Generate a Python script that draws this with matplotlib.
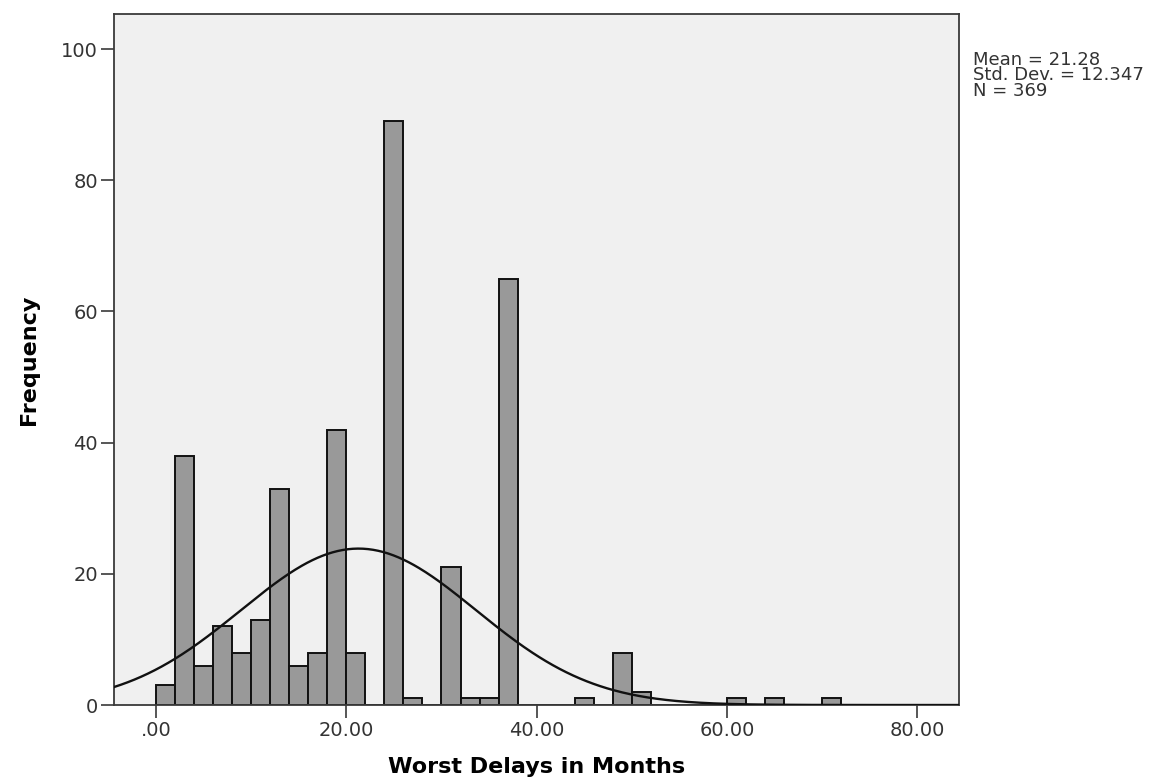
import numpy as np
import matplotlib
matplotlib.use('Agg')
import matplotlib.pyplot as plt

# histogram of worst delays (bin width 2 months), read from the SPSS output
bin_left = [0, 2, 4, 6, 8, 10, 12, 14, 16, 18, 20, 22, 24, 26, 28, 30, 32, 34, 36,
            38, 40, 42, 44, 46, 48, 50, 52, 54, 56, 58, 60, 62, 64, 66, 68, 70]
counts = [3, 38, 6, 12, 8, 13, 33, 6, 8, 42, 8, 0, 89, 1, 0, 21, 1, 1, 65,
          0, 0, 0, 1, 0, 8, 2, 0, 0, 0, 0, 1, 0, 1, 0, 0, 1]
bin_width = 2.0

mean = 21.28
std = 12.347
n = 369

xticks = [0, 20, 40, 60, 80]
xticklabels = ['.00', '20.00', '40.00', '60.00', '80.00']
yticks = [0, 20, 40, 60, 80, 100]

fig = plt.figure(figsize=(11.66, 7.81), dpi=100)
ax = fig.add_axes([0.0978, 0.0973, 0.8227 - 0.0978, 0.9817 - 0.0973])
ax.set_facecolor('#f0f0f0')

ax.bar(bin_left, counts, width=bin_width, align='edge',
       color='#999999', edgecolor='#111111', linewidth=1.4, zorder=2)

# normal curve scaled to the histogram
xlo, xhi = -4.4, 84.4
xs = np.linspace(xlo, xhi, 500)
ys = n * bin_width / (std * np.sqrt(2 * np.pi)) * np.exp(-0.5 * ((xs - mean) / std) ** 2)
ax.plot(xs, ys, color='#111111', linewidth=1.7, zorder=3)

ax.set_xlim(xlo, xhi)
ax.set_ylim(0, 105.3)
ax.set_xticks(xticks)
ax.set_xticklabels(xticklabels)
ax.set_yticks(yticks)

for s in ax.spines.values():
    s.set_color('#3a3a3a')
    s.set_linewidth(1.3)
ax.tick_params(axis='both', direction='out', length=9.5, width=1.2,
               color='#3a3a3a', labelsize=14, labelcolor='#333333', pad=2)

ax.set_xlabel('Worst Delays in Months', fontsize=16, fontweight='bold', labelpad=12)
ax.set_ylabel('Frequency', fontsize=16, fontweight='bold', labelpad=16)

fig.text(973 / 1166, 1 - 51 / 781,
         'Mean = 21.28\nStd. Dev. = 12.347\nN = 369',
         fontsize=13, va='top', ha='left', linespacing=0.82, color='#333333')

fig.savefig('out.png', dpi=100, facecolor='white')
